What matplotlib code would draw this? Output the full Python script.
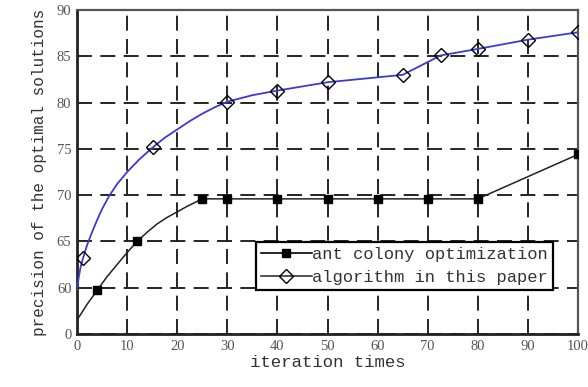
import matplotlib
matplotlib.use("Agg")
import matplotlib.pyplot as plt
from matplotlib.lines import Line2D

# data (y axis is broken: 55 is labelled "0")
aco_x = [0, 2, 4, 6, 8, 10, 12, 14, 16, 18, 20, 22, 25, 30, 40, 50, 60, 70, 80, 100]
aco_y = [56.5, 58.2, 59.7, 61.2, 62.5, 63.8, 65.0, 66.0, 66.9, 67.6, 68.2, 68.8, 69.6,
         69.6, 69.6, 69.6, 69.6, 69.6, 69.6, 74.4]
aco_marks = [2, 6, 12, 13, 14, 15, 16, 17, 18, 19]

ours_x = [0, 0.3, 0.7, 1.2, 2, 3, 4, 5, 6.4, 8, 10, 12.5, 15.2, 17.5, 20, 22.5, 25,
          27.5, 30, 35, 40, 50, 65, 72.6, 80, 90, 100]
ours_y = [59.8, 61.0, 62.2, 63.2, 64.6, 66.0, 67.3, 68.5, 69.9, 71.2, 72.5, 73.9, 75.2,
          76.2, 77.1, 78.0, 78.8, 79.5, 80.1, 80.8, 81.3, 82.2, 83.0, 85.1, 85.8, 86.8, 87.6]
ours_marks = [3, 12, 18, 20, 21, 22, 23, 24, 25, 26]

xticks = list(range(0, 101, 10))
yticks = [55, 60, 65, 70, 75, 80, 85, 90]
ytick_labels = ["0", "60", "65", "70", "75", "80", "85", "90"]

label_font = "Liberation Mono"
tick_font = "Liberation Serif"

fig = plt.figure(figsize=(5.88, 3.87), dpi=100)
ax = fig.add_axes([0.131, 0.137, 0.852, 0.837])

ax.plot(aco_x, aco_y, color="#222222", lw=1.1, marker="s", ms=6,
        mfc="black", mec="black", markevery=aco_marks, zorder=3)
ax.plot(ours_x, ours_y, color="#3a3ad8", lw=1.3, marker="D", ms=7,
        mfc="none", mec="black", mew=1.0, markevery=ours_marks, zorder=3)

ax.set_xlim(0, 100)
ax.set_ylim(55, 90)
ax.set_xticks(xticks)
ax.set_yticks(yticks)
ax.set_yticklabels(ytick_labels)
for lab in ax.get_xticklabels() + ax.get_yticklabels():
    lab.set_fontfamily(tick_font)
    lab.set_fontsize(10.5)
    lab.set_color("#555555")
ax.tick_params(length=0, pad=4)

ax.grid(True, color="black", ls=(0, (9, 5)), lw=1.2)
for s in ["left", "bottom"]:
    ax.spines[s].set_linewidth(2)
    ax.spines[s].set_color("#222222")
for s in ["top", "right"]:
    ax.spines[s].set_linewidth(1.6)
    ax.spines[s].set_color("#555555")

ax.set_xlabel("iteration times", family=label_font, fontsize=12.5, labelpad=2, color="#333333")
ax.set_ylabel("precision of the optimal solutions", family=label_font, fontsize=11.5,
              labelpad=7, color="#333333")

handles = [
    Line2D([], [], color="black", lw=1.2, marker="s", ms=6, mfc="black", mec="black"),
    Line2D([], [], color="#333333", lw=1.2, marker="D", ms=7, mfc="none", mec="black"),
]
leg = ax.legend(handles, ["ant colony optimization", "algorithm in this paper"],
                loc="lower right", bbox_to_anchor=(0.95, 0.135),
                prop={"family": label_font, "size": 12.3}, frameon=True,
                fancybox=False, framealpha=1, edgecolor="black",
                borderpad=0.3, labelspacing=0.45, handlelength=3.0,
                handletextpad=0.0, borderaxespad=0)
leg.get_frame().set_linewidth(1.6)
for t in leg.get_texts():
    t.set_color("#333333")

fig.savefig("out.png", dpi=100)
